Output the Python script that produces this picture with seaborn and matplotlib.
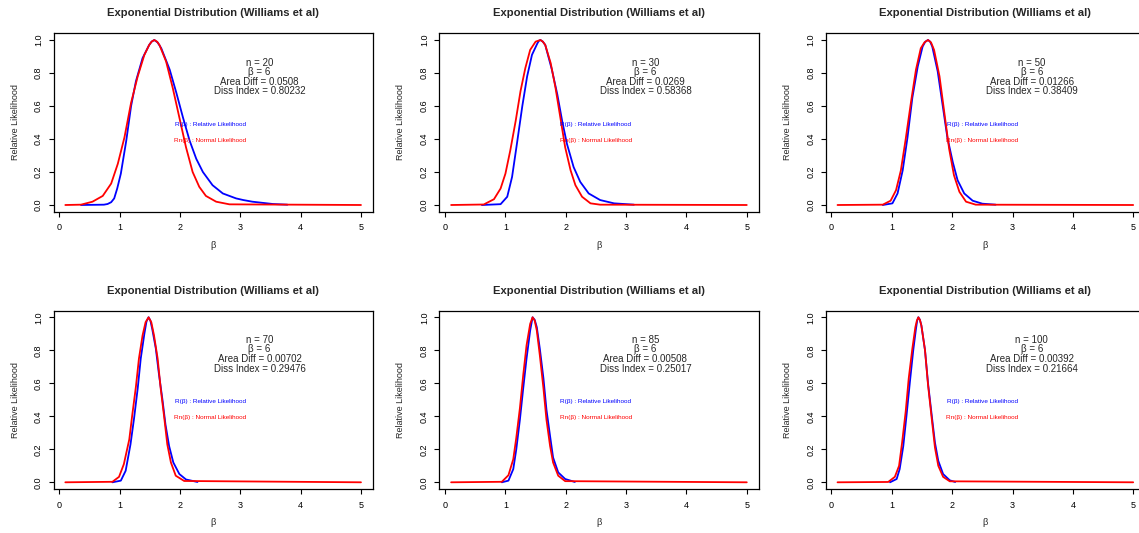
import matplotlib
matplotlib.use("Agg")
import matplotlib.pyplot as plt
import seaborn as sns

# ---- data -------------------------------------------------------------
sample_sizes = [20, 30, 50, 70, 85, 100]
beta_true = 6
area_diff = [0.0508, 0.0269, 0.01266, 0.00702, 0.00508, 0.00392]
diss_index = [0.80232, 0.58368, 0.38409, 0.29476, 0.25017, 0.21664]

x_ticks = [0, 1, 2, 3, 4, 5]
y_ticks = [0.0, 0.2, 0.4, 0.6, 0.8, 1.0]
y_tick_labels = ["0.0", "0.2", "0.4", "0.6", "0.8", "1.0"]

# relative likelihood R(beta) and normal approximation Rn(beta), per sample size
beta_rel_20 = [0.36, 0.74, 0.80, 0.86, 0.91, 0.96, 1.02, 1.11, 1.19, 1.27, 1.38, 1.49, 1.53, 1.575,
               1.63, 1.69, 1.83, 1.94, 2.05, 2.16, 2.27, 2.38, 2.54, 2.71, 2.93, 3.05,
               3.20, 3.54, 3.78]
rel_20 = [0.0, 0.002, 0.006, 0.017, 0.04, 0.10, 0.19, 0.39, 0.60, 0.75, 0.89, 0.97, 0.99, 1.0,
          0.985, 0.95, 0.82, 0.68, 0.53, 0.39, 0.28, 0.20, 0.12, 0.07, 0.04, 0.03,
          0.02, 0.006, 0.002]
beta_norm_20 = [0.10, 0.36, 0.55, 0.72, 0.86, 0.97, 1.08, 1.19, 1.30, 1.41, 1.49, 1.53, 1.575,
                1.62, 1.66, 1.77, 1.88, 1.99, 2.10, 2.21, 2.32, 2.43, 2.60, 2.82, 5.0]
norm_20 = [0.0, 0.002, 0.02, 0.055, 0.13, 0.25, 0.41, 0.62, 0.78, 0.91, 0.97, 0.99, 1.0,
           0.99, 0.97, 0.87, 0.71, 0.53, 0.35, 0.20, 0.11, 0.055, 0.02, 0.004, 0.0]

beta_rel_30 = [0.61, 0.92, 1.03, 1.11, 1.19, 1.28, 1.36, 1.44, 1.53, 1.555, 1.58, 1.62, 1.66,
               1.77, 1.86, 1.94, 2.02, 2.13, 2.24, 2.38, 2.57, 2.80, 3.13]
rel_30 = [0.0, 0.005, 0.05, 0.17, 0.37, 0.60, 0.78, 0.91, 0.98, 0.995, 1.0, 0.99, 0.97,
          0.82, 0.67, 0.51, 0.37, 0.23, 0.14, 0.07, 0.03, 0.01, 0.002]
beta_norm_30 = [0.10, 0.64, 0.81, 0.92, 1.00, 1.08, 1.17, 1.25, 1.33, 1.41, 1.50, 1.58,
                1.62, 1.66, 1.75, 1.83, 1.91, 1.99, 2.08, 2.16, 2.27, 2.41, 2.57, 5.0]
norm_30 = [0.0, 0.003, 0.035, 0.10, 0.19, 0.33, 0.51, 0.69, 0.83, 0.94, 0.99, 1.0,
           0.99, 0.97, 0.86, 0.71, 0.53, 0.35, 0.21, 0.12, 0.05, 0.01, 0.002, 0.0]

beta_rel_50 = [0.85, 1.01, 1.095, 1.18, 1.26, 1.34, 1.43, 1.51, 1.555, 1.60, 1.635, 1.67,
               1.76, 1.84, 1.92, 2.01, 2.09, 2.20, 2.34, 2.50, 2.72]
rel_50 = [0.0, 0.01, 0.07, 0.21, 0.41, 0.65, 0.84, 0.96, 0.99, 1.0, 0.99, 0.96,
          0.81, 0.61, 0.41, 0.26, 0.15, 0.07, 0.026, 0.008, 0.002]
beta_norm_50 = [0.10, 0.85, 0.98, 1.07, 1.15, 1.23, 1.32, 1.40, 1.48, 1.54, 1.60, 1.65,
                1.70, 1.79, 1.87, 1.95, 2.03, 2.12, 2.23, 2.39, 5.0]
norm_50 = [0.0, 0.002, 0.026, 0.09, 0.21, 0.40, 0.63, 0.82, 0.95, 0.985, 1.0, 0.985,
           0.94, 0.78, 0.56, 0.34, 0.18, 0.08, 0.02, 0.002, 0.0]

beta_rel_70 = [0.88, 1.02, 1.10, 1.18, 1.24, 1.30, 1.35, 1.41, 1.445, 1.48, 1.51, 1.54,
               1.60, 1.65, 1.71, 1.76, 1.82, 1.89, 1.99, 2.10, 2.29]
rel_70 = [0.0, 0.01, 0.07, 0.23, 0.39, 0.57, 0.75, 0.90, 0.975, 1.0, 0.98, 0.93,
          0.81, 0.66, 0.50, 0.35, 0.22, 0.12, 0.05, 0.017, 0.002]
beta_norm_70 = [0.10, 0.88, 0.99, 1.07, 1.16, 1.21, 1.27, 1.32, 1.38, 1.43, 1.48, 1.525,
                1.57, 1.63, 1.68, 1.74, 1.79, 1.85, 1.93, 2.07, 5.0]
norm_70 = [0.0, 0.003, 0.033, 0.11, 0.26, 0.41, 0.58, 0.75, 0.89, 0.97, 1.0, 0.97,
           0.89, 0.75, 0.57, 0.39, 0.23, 0.12, 0.04, 0.008, 0.0]

beta_rel_85 = [0.94, 1.05, 1.13, 1.18, 1.24, 1.295, 1.35, 1.41, 1.45, 1.485, 1.52, 1.57,
               1.63, 1.68, 1.74, 1.79, 1.875, 1.99, 2.15]
rel_85 = [0.0, 0.01, 0.08, 0.20, 0.38, 0.57, 0.75, 0.92, 1.0, 0.985, 0.94, 0.81,
          0.63, 0.44, 0.28, 0.15, 0.06, 0.02, 0.002]
beta_norm_85 = [0.10, 0.94, 1.05, 1.13, 1.18, 1.24, 1.295, 1.35, 1.41, 1.45, 1.485, 1.52,
                1.57, 1.63, 1.68, 1.74, 1.79, 1.875, 1.99, 5.0]
norm_85 = [0.0, 0.003, 0.043, 0.14, 0.27, 0.45, 0.65, 0.83, 0.96, 1.0, 0.98, 0.92,
           0.77, 0.57, 0.38, 0.22, 0.12, 0.04, 0.007, 0.0]

beta_rel_100 = [0.97, 1.08, 1.13, 1.19, 1.245, 1.30, 1.355, 1.40, 1.42, 1.44, 1.465, 1.49,
                1.55, 1.60, 1.66, 1.715, 1.77, 1.85, 1.96, 2.05]
rel_100 = [0.0, 0.02, 0.08, 0.22, 0.41, 0.61, 0.80, 0.93, 0.98, 1.0, 0.985, 0.95,
           0.80, 0.60, 0.41, 0.24, 0.13, 0.05, 0.012, 0.002]
beta_norm_100 = [0.10, 0.94, 1.05, 1.12, 1.17, 1.23, 1.28, 1.34, 1.39, 1.415, 1.44, 1.465,
                 1.49, 1.55, 1.60, 1.66, 1.715, 1.77, 1.85, 1.96, 5.0]
norm_100 = [0.0, 0.002, 0.033, 0.10, 0.24, 0.43, 0.63, 0.81, 0.94, 0.98, 1.0, 0.985,
            0.95, 0.80, 0.59, 0.39, 0.21, 0.10, 0.033, 0.006, 0.0]

rel_curves = [(beta_rel_20, rel_20), (beta_rel_30, rel_30), (beta_rel_50, rel_50),
              (beta_rel_70, rel_70), (beta_rel_85, rel_85), (beta_rel_100, rel_100)]
norm_curves = [(beta_norm_20, norm_20), (beta_norm_30, norm_30), (beta_norm_50, norm_50),
               (beta_norm_70, norm_70), (beta_norm_85, norm_85), (beta_norm_100, norm_100)]

title = "Exponential Distribution (Williams et al)"

# ---- style ------------------------------------------------------------
sns.set_theme(style="ticks")
plt.rcParams["font.family"] = ["Liberation Sans", "DejaVu Sans"]
plt.rcParams["axes.edgecolor"] = "black"
plt.rcParams["xtick.color"] = "black"
plt.rcParams["ytick.color"] = "black"

FIG_W, FIG_H = 1139, 533
fig = plt.figure(figsize=(FIG_W / 100, FIG_H / 100), dpi=100)
fig.patch.set_facecolor("white")

lefts = [53.5, 439.3, 825.7]
tops = [33.4, 310.7]
AX_W, AX_H = 319.3, 178.2

for i, n in enumerate(sample_sizes):
    row, col = divmod(i, 3)
    ax = fig.add_axes([lefts[col] / FIG_W, 1 - (tops[row] + AX_H) / FIG_H,
                       AX_W / FIG_W, AX_H / FIG_H])
    ax.set_facecolor("white")

    bx, by = rel_curves[i]
    rx, ry = norm_curves[i]
    sns.lineplot(x=bx, y=by, color="#0000FF", linewidth=1.3, ax=ax,
                 estimator=None, sort=False, solid_joinstyle="round")
    sns.lineplot(x=rx, y=ry, color="#FF0000", linewidth=1.3, ax=ax,
                 estimator=None, sort=False, solid_joinstyle="round")

    ax.set_xlim(-0.096, 5.196)
    ax.set_ylim(-0.04, 1.04)
    ax.set_xticks(x_ticks)
    ax.set_xticklabels([str(t) for t in x_ticks], fontsize=6.5)
    ax.set_yticks(y_ticks)
    ax.set_yticklabels(y_tick_labels, rotation=90, va="center", fontsize=6.5)
    ax.tick_params(axis="both", direction="out", length=3.5, width=0.8)
    ax.tick_params(axis="x", pad=5)
    ax.tick_params(axis="y", pad=4)
    for sp in ax.spines.values():
        sp.set_visible(True)
        sp.set_linewidth(0.9)
        sp.set_color("black")

    ax.set_title(title, fontsize=8.1, fontweight="bold", y=1 + 20 / AX_H,
                 va="center", pad=0)
    ax.set_ylabel("Relative Likelihood", fontsize=6.5, va="center")
    ax.yaxis.set_label_coords(-38.5 / AX_W, 0.5)
    ax.set_xlabel("β", fontsize=6.8, va="center")
    ax.xaxis.set_label_coords(0.5, -34 / AX_H)

    # summary statistics
    stats = (f"n = {n}\nβ = {beta_true}\n"
             f"Area Diff = {area_diff[i]}\nDiss Index = {diss_index[i]}")
    ax.text(3.32, 0.776, stats, fontsize=7, ha="center", va="center",
            multialignment="center", linespacing=0.95)

    # curve labels
    ax.text(2.5, 0.49, "R(β) : Relative Likelihood", fontsize=4.6, color="#0000FF",
            ha="center", va="center")
    ax.text(2.5, 0.39, "Rn(β) : Normal Likelihood", fontsize=4.6, color="#FF0000",
            ha="center", va="center")

fig.savefig("out.png", dpi=100, facecolor="white")
